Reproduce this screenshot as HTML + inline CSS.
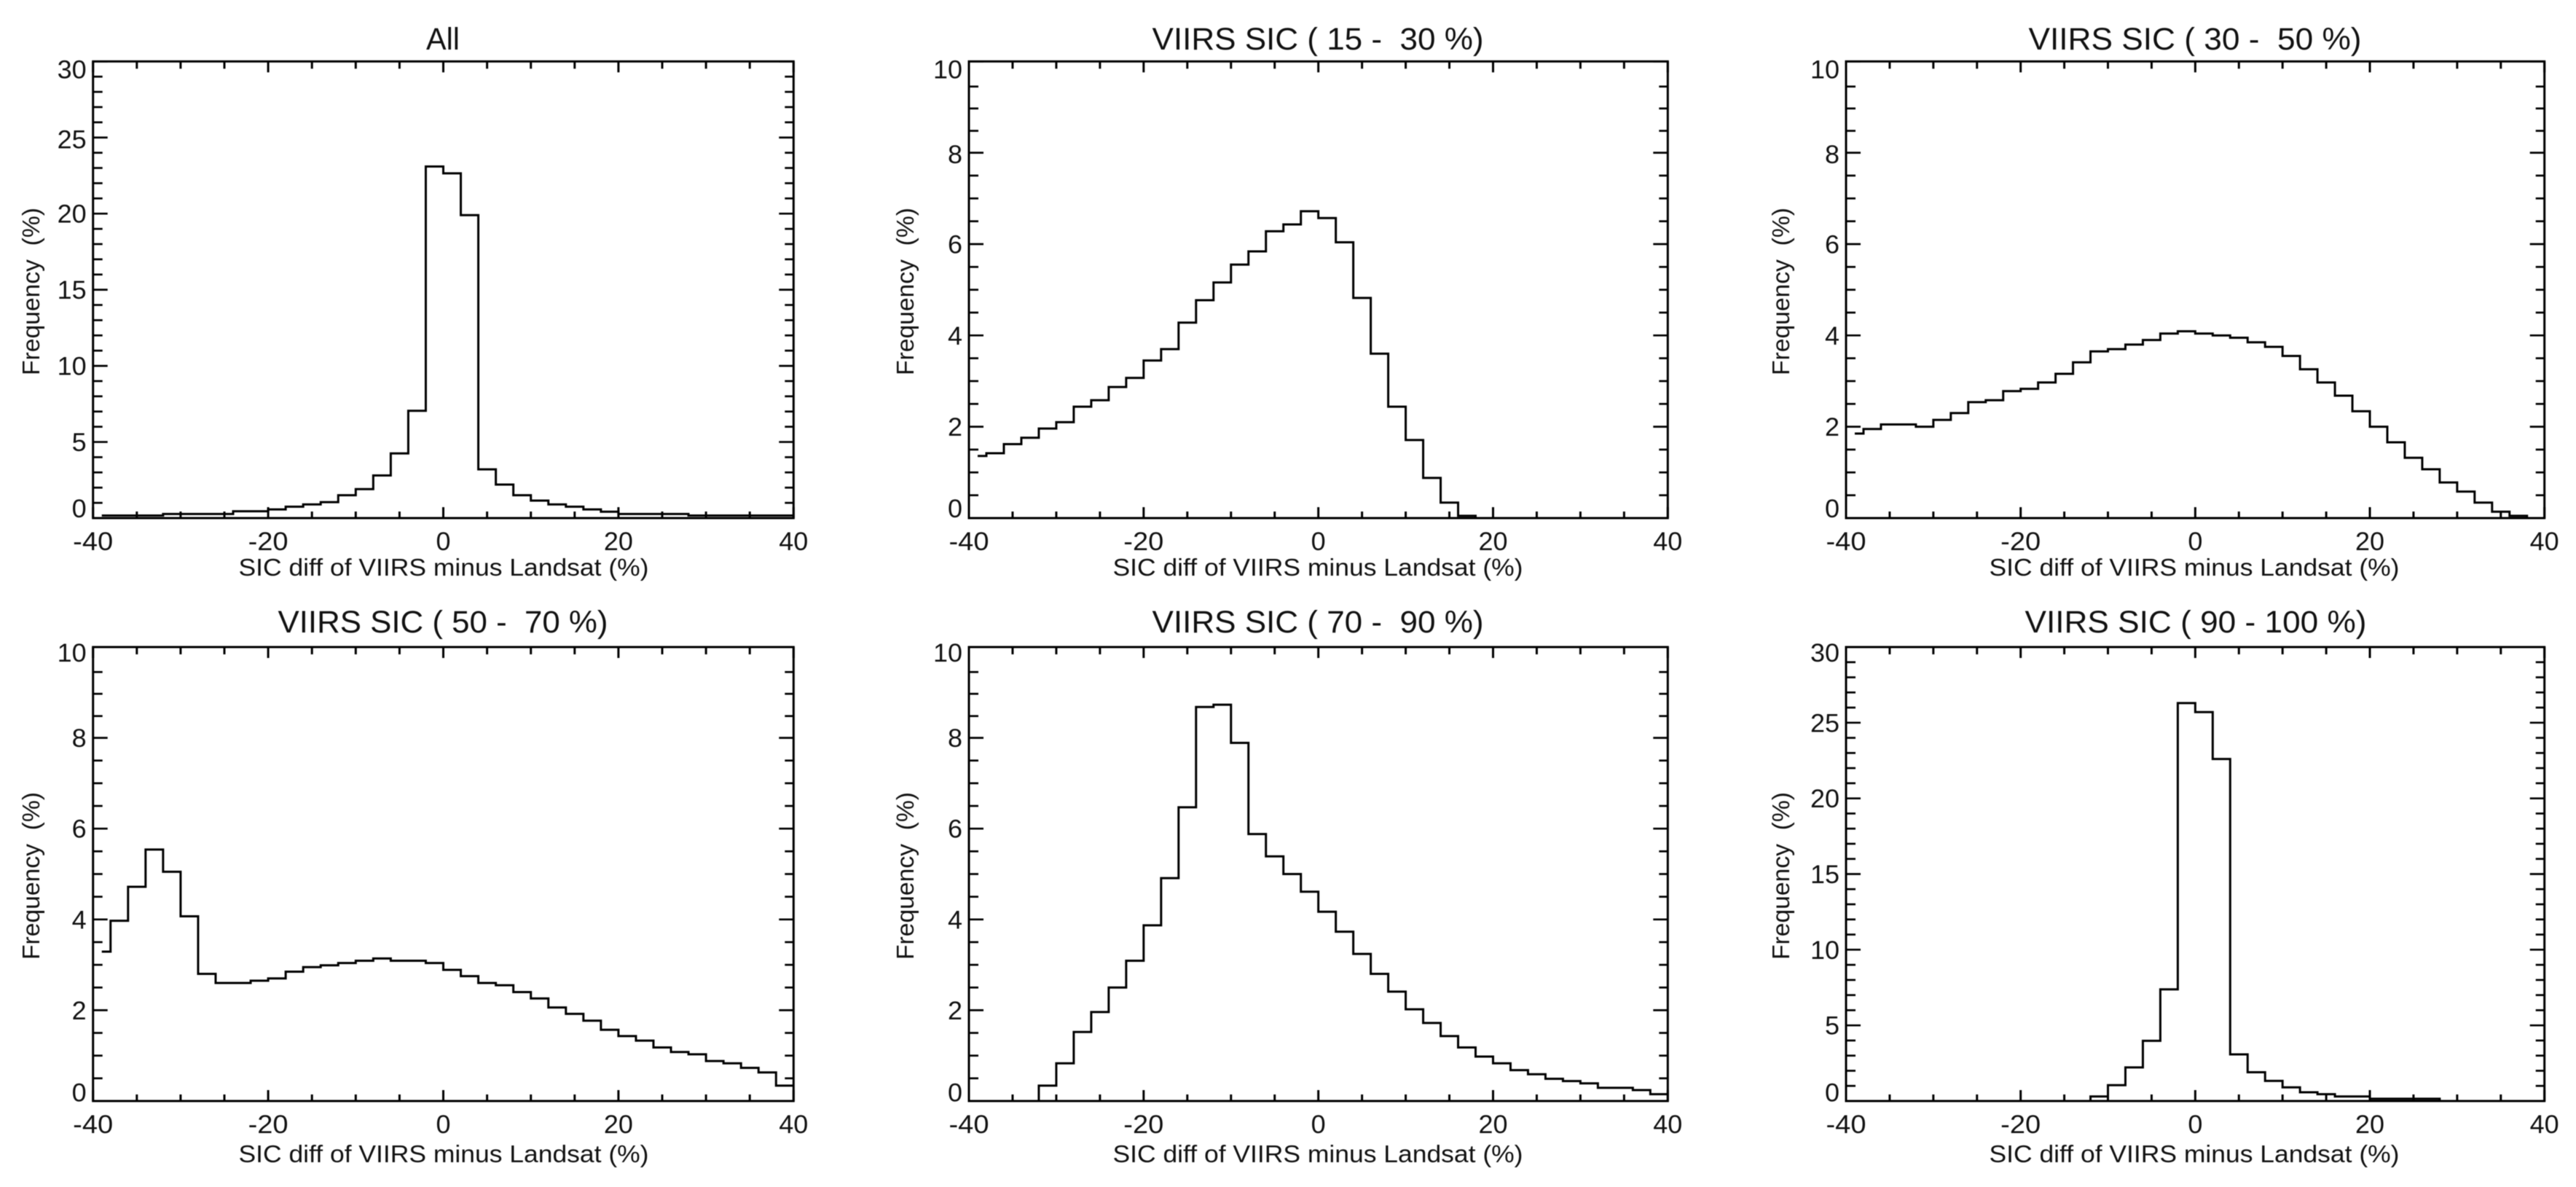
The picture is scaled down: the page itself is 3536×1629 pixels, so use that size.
<!DOCTYPE html>
<html lang="en">
<head>
<meta charset="utf-8">
<title>SIC difference histograms</title>
<style>
html,body{margin:0;padding:0;background:#fff;width:3536px;height:1629px;overflow:hidden}
svg{display:block;position:absolute;left:0;top:0;filter:blur(0.45px)}
text{font-family:"Liberation Sans",Arial,sans-serif;fill:#111;white-space:pre}
.title{font-size:43px;text-anchor:middle}
.axt{font-size:33px;text-anchor:middle}
.tick{font-size:35px}
</style>
</head>
<body>
<svg id="chart" xmlns="http://www.w3.org/2000/svg" width="3536" height="1629" viewBox="0 0 3536 1629">
  <rect x="0" y="0" width="3536" height="1629" fill="#fff"/>
  <g id="p0">
    <text class="title" x="608" y="68" textLength="46" lengthAdjust="spacingAndGlyphs">All</text>
    <text class="axt" x="609" y="790" textLength="563" lengthAdjust="spacingAndGlyphs">SIC diff of VIIRS minus Landsat (%)</text>
    <text class="axt" transform="translate(54 400) rotate(-90)" textLength="230" lengthAdjust="spacingAndGlyphs">Frequency  (%)</text>
  </g>
  <g id="p1">
    <text class="title" x="1809" y="68" textLength="455" lengthAdjust="spacingAndGlyphs">VIIRS SIC ( 15 -  30 %)</text>
    <text class="axt" x="1809" y="790" textLength="563" lengthAdjust="spacingAndGlyphs">SIC diff of VIIRS minus Landsat (%)</text>
    <text class="axt" transform="translate(1254 400) rotate(-90)" textLength="230" lengthAdjust="spacingAndGlyphs">Frequency  (%)</text>
  </g>
  <g id="p2">
    <text class="title" x="3013" y="68" textLength="457" lengthAdjust="spacingAndGlyphs">VIIRS SIC ( 30 -  50 %)</text>
    <text class="axt" x="3012" y="790" textLength="563" lengthAdjust="spacingAndGlyphs">SIC diff of VIIRS minus Landsat (%)</text>
    <text class="axt" transform="translate(2456 400) rotate(-90)" textLength="230" lengthAdjust="spacingAndGlyphs">Frequency  (%)</text>
  </g>
  <g id="p3">
    <text class="title" x="608" y="868" textLength="453" lengthAdjust="spacingAndGlyphs">VIIRS SIC ( 50 -  70 %)</text>
    <text class="axt" x="609" y="1595" textLength="563" lengthAdjust="spacingAndGlyphs">SIC diff of VIIRS minus Landsat (%)</text>
    <text class="axt" transform="translate(54 1202) rotate(-90)" textLength="230" lengthAdjust="spacingAndGlyphs">Frequency  (%)</text>
  </g>
  <g id="p4">
    <text class="title" x="1809" y="868" textLength="455" lengthAdjust="spacingAndGlyphs">VIIRS SIC ( 70 -  90 %)</text>
    <text class="axt" x="1809" y="1595" textLength="563" lengthAdjust="spacingAndGlyphs">SIC diff of VIIRS minus Landsat (%)</text>
    <text class="axt" transform="translate(1254 1202) rotate(-90)" textLength="230" lengthAdjust="spacingAndGlyphs">Frequency  (%)</text>
  </g>
  <g id="p5">
    <text class="title" x="3014" y="868" textLength="469" lengthAdjust="spacingAndGlyphs">VIIRS SIC ( 90 - 100 %)</text>
    <text class="axt" x="3012" y="1595" textLength="563" lengthAdjust="spacingAndGlyphs">SIC diff of VIIRS minus Landsat (%)</text>
    <text class="axt" transform="translate(2456 1202) rotate(-90)" textLength="230" lengthAdjust="spacingAndGlyphs">Frequency  (%)</text>
  </g>
</svg>
<script>
// Bin centres (percent difference) shared by every histogram
var binCenters = [-39,-37,-35,-33,-31,-29,-27,-25,-23,-21,-19,-17,-15,-13,-11,-9,-7,-5,-3,-1,1,3,5,7,9,11,13,15,17,19,21,23,25,27,29,31,33,35,37,39];

// Frequency (%) per bin
var freqAll = [0.17,0.17,0.17,0.17,0.27,0.27,0.27,0.27,0.45,0.45,0.57,0.75,0.9,1.05,1.5,1.9,2.8,4.25,7.05,23.1,22.65,19.9,3.2,2.2,1.5,1.15,0.9,0.75,0.57,0.42,0.27,0.27,0.27,0.27,0.17,0.17,0.17,0.17,0.17,0.17];
var freq15to30 = [1.36,1.42,1.62,1.76,1.96,2.1,2.44,2.58,2.87,3.07,3.45,3.7,4.28,4.77,5.16,5.55,5.84,6.28,6.43,6.72,6.57,6.04,4.82,3.6,2.44,1.71,0.88,0.34,0.05,0,0,0,0,0,0,0,0,0,0,0];
var freq30to50 = [1.85,1.95,2.05,2.05,2.0,2.15,2.3,2.54,2.58,2.78,2.83,2.97,3.16,3.41,3.65,3.7,3.8,3.9,4.04,4.09,4.04,4.0,3.95,3.85,3.75,3.55,3.26,2.97,2.68,2.34,2.0,1.66,1.32,1.07,0.78,0.58,0.34,0.14,0.05,0];
var freq50to70 = [3.29,3.97,4.72,5.54,5.05,4.07,2.8,2.6,2.6,2.65,2.7,2.85,2.95,2.99,3.04,3.09,3.14,3.09,3.09,3.04,2.89,2.75,2.6,2.55,2.4,2.26,2.06,1.92,1.77,1.57,1.43,1.33,1.18,1.08,1.03,0.88,0.83,0.73,0.63,0.34];
var freq70to90 = [0,0,0,0,0.34,0.83,1.52,1.96,2.5,3.09,3.87,4.91,6.47,8.68,8.73,7.89,5.88,5.39,5.0,4.61,4.17,3.73,3.24,2.8,2.41,2.02,1.72,1.43,1.18,0.98,0.83,0.68,0.59,0.49,0.44,0.39,0.29,0.29,0.24,0.15];
var freq90to100 = [0,0,0,0,0,0,0,0,0,0,0,0,0,0,0.3,1.05,2.22,3.98,7.38,26.3,25.7,22.6,3.08,1.9,1.33,0.9,0.58,0.45,0.3,0.3,0.15,0.15,0.15,0.15,0,0,0,0,0,0];

// Axis tick values and labels
var xMajorTicks = [-40,-20,0,20,40];
var xMinorTicks = [-35,-30,-25,-15,-10,-5,5,10,15,25,30,35];
var xTickLabels = ["-40","-20","0","20","40"];
var yMajorWide = [0,5,10,15,20,25,30];
var yMinorWide = [1,2,3,4,6,7,8,9,11,12,13,14,16,17,18,19,21,22,23,24,26,27,28,29];
var yLabelsWide = ["0","5","10","15","20","25","30"];
var yMajorNarrow = [0,2,4,6,8,10];
var yMinorNarrow = [0.5,1,1.5,2.5,3,3.5,4.5,5,5.5,6.5,7,7.5,8.48,8.97,9.45];
var yLabelsNarrow = ["0","2","4","6","8","10"];

var xDomain = [-40,40];
var panelSeries = [freqAll,freq15to30,freq30to50,freq50to70,freq70to90,freq90to100];
var panelYMax = [30,10,10,10,10,30];

// Layout frames
var colLeft = [127.7,1330,2534];
var colRight = [1089.3,2289.3,3492.7];
var rowTop = [84.3,888];
var rowBottom = [711,1511];
var tickLabelBaseline = [755,1555];
var topLabelOffset = [23,20];
var zeroLabelOffset = [-1,0.5];

var NS = "http://www.w3.org/2000/svg";

function makeXScale(left,right){
  return function(v){ return left+(v-xDomain[0])/(xDomain[1]-xDomain[0])*(right-left); };
}
function makeYScale(top,bottom,ymax){
  return function(v){ return bottom-v/ymax*(bottom-top); };
}
function addLine(group,x1,y1,x2,y2,w,name){
  var el=document.createElementNS(NS,"line");
  el.setAttribute("x1",x1);
  el.setAttribute("y1",y1);
  el.setAttribute("x2",x2);
  el.setAttribute("y2",y2);
  el.setAttribute("stroke","#000");
  el.setAttribute("stroke-width",w);
  
  
  group.appendChild(el);
}
function labelWidth(str){
  var w=0;
  for(var i=0;i<str.length;i++){ w+= str[i]==="-" ? 15 : 20; }
  return w;
}
function addLabel(group,x,y,str,anchor,name){
  var el=document.createElementNS(NS,"text");
  el.setAttribute("class","tick");
  el.setAttribute("x",x);
  el.setAttribute("y",y);
  el.setAttribute("text-anchor",anchor);
  el.setAttribute("textLength",labelWidth(str));
  el.setAttribute("lengthAdjust","spacingAndGlyphs");
  el.textContent=str;
  
  
  group.appendChild(el);
}
function drawPanel(i){
  var g=document.getElementById("p"+i);
  var col=i%3, row=Math.floor(i/3);
  var L=colLeft[col],R=colRight[col],T=rowTop[row],B=rowBottom[row];
  var ymax=panelYMax[i];
  var sx=makeXScale(L,R), sy=makeYScale(T,B,ymax);
  var yMaj= ymax===30?yMajorWide:yMajorNarrow;
  var yMin= ymax===30?yMinorWide:yMinorNarrow;
  var yLab= ymax===30?yLabelsWide:yLabelsNarrow;

  xMinorTicks.forEach(function(v){
    addLine(g,sx(v),T,sx(v),T+10,3,"x-minor-tick-top");
    addLine(g,sx(v),B,sx(v),B-9,3,"x-minor-tick-bottom");
  });
  xMajorTicks.forEach(function(v,k){
    addLine(g,sx(v),T,sx(v),T+15,3,"x-major-tick-top");
    addLine(g,sx(v),B,sx(v),B-15,3,"x-major-tick-bottom");
    addLabel(g,sx(v),tickLabelBaseline[row],xTickLabels[k],"middle","x-tick-label");
  });
  yMin.forEach(function(v){
    addLine(g,L,sy(v),L+13,sy(v),2.7,"y-minor-tick-left");
    addLine(g,R,sy(v),R-12,sy(v),2.7,"y-minor-tick-right");
  });
  yMaj.forEach(function(v,k){
    addLine(g,L,sy(v),L+20,sy(v),2.7,"y-major-tick-left");
    addLine(g,R,sy(v),R-20,sy(v),2.7,"y-major-tick-right");
    var by=sy(v)+12.5;
    if(row===0 && k===yMaj.length-2){ by=sy(v)+14.5; }
    if(v===0){ by=sy(v)+zeroLabelOffset[row]; }
    if(v===ymax){ by=sy(v)+topLabelOffset[row]; }
    addLabel(g,L-9,by,yLab[k],"end","y-tick-label");
  });

  var frame=document.createElementNS(NS,"rect");
  frame.setAttribute("x",L);
  frame.setAttribute("y",T);
  frame.setAttribute("width",R-L);
  frame.setAttribute("height",B-T);
  frame.setAttribute("fill","none");
  frame.setAttribute("stroke","#000");
  frame.setAttribute("stroke-width",3);
  
  
  g.appendChild(frame);

  var vals=panelSeries[i];
  var d="M"+sx(binCenters[0]).toFixed(2)+" "+sy(vals[0]).toFixed(2);
  for(var k=1;k<binCenters.length;k++){
    var edge=sx((binCenters[k-1]+binCenters[k])/2).toFixed(2);
    d+=" L"+edge+" "+sy(vals[k-1]).toFixed(2)+" L"+edge+" "+sy(vals[k]).toFixed(2);
  }
  var last=binCenters.length-1;
  d+=" L"+sx(binCenters[last]+1).toFixed(2)+" "+sy(vals[last]).toFixed(2);
  var path=document.createElementNS(NS,"path");
  path.setAttribute("d",d);
  path.setAttribute("fill","none");
  path.setAttribute("stroke","#000");
  path.setAttribute("stroke-width",3);
  path.setAttribute("stroke-linejoin","miter");
  
  
  g.appendChild(path);
}
for(var p=0;p<6;p++){ drawPanel(p); }
</script>
</body>
</html>
